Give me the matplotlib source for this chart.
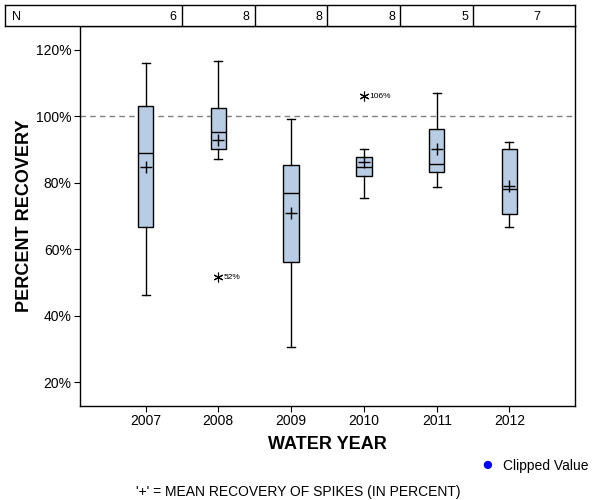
import matplotlib.pyplot as plt
from matplotlib.ticker import FuncFormatter

plt.rcParams['font.family'] = ['Liberation Sans', 'DejaVu Sans']

# values (percent recovery)
years = ['2007', '2008', '2009', '2010', '2011', '2012']
n_counts = [6, 8, 8, 8, 5, 7]
whisker_low = [46.1, 87.2, 30.5, 75.3, 78.7, 66.6]
q1 = [66.6, 90.2, 56.1, 82.0, 83.2, 70.5]
medians = [88.9, 95.3, 76.8, 84.7, 85.6, 78.0]
q3 = [103.0, 102.4, 85.3, 87.7, 96.1, 90.1]
whisker_high = [116.0, 116.6, 99.1, 90.1, 107.0, 92.2]
means = [84.9, 93.0, 70.8, 86.2, 90.1, 78.9]
outlier_year = ['2008', '2010']
outlier_val = [51.5, 106.1]
outlier_lbl = ['52%', '106%']

stats = []
for i in range(len(years)):
    stats.append({'whislo': whisker_low[i], 'q1': q1[i], 'med': medians[i],
                  'q3': q3[i], 'whishi': whisker_high[i], 'fliers': [],
                  'label': years[i]})

fig = plt.figure(figsize=(6, 5), dpi=100)
ax = fig.add_axes([80/600, 94/500, 495/600, 380/500])
pos = list(range(len(years)))
bp = ax.bxp(stats, positions=pos, widths=0.21, patch_artist=True,
            showfliers=False,
            boxprops=dict(facecolor='#b8cce4', edgecolor='black', linewidth=1),
            medianprops=dict(color='black', linewidth=1),
            whiskerprops=dict(color='black', linewidth=1),
            capprops=dict(color='black', linewidth=1),
            capwidths=0.11)
ax.plot(pos, means, linestyle='none', marker='+', color='black',
        markersize=9, markeredgewidth=1, zorder=5)

for yr, v, lbl in zip(outlier_year, outlier_val, outlier_lbl):
    xi = years.index(yr)
    ax.plot(xi, v, linestyle='none', marker=(6, 2, 0), color='black',
            markersize=7, markeredgewidth=0.8, zorder=5)
    ax.text(xi + 0.08, v, lbl, fontsize=6, va='center', ha='left')

ax.axhline(100, color='gray', linestyle=(0, (4, 3)), linewidth=1, zorder=0)

ax.set_xlim(-0.9, 5.9)
ax.set_ylim(12.8, 127.2)
ax.set_yticks([20, 40, 60, 80, 100, 120])
ax.yaxis.set_major_formatter(FuncFormatter(lambda v, p: f'{v:.0f}%'))
ax.set_xticks(pos)
ax.set_xticklabels(years)
ax.tick_params(direction='out', length=4, labelsize=10, top=False, right=False)
ax.tick_params(axis='x', pad=1.5)
ax.tick_params(axis='y', pad=2)
for s in ax.spines.values():
    s.set_linewidth(1)
ax.set_xlabel('WATER YEAR', fontsize=13, fontweight='bold')
ax.set_ylabel('PERCENT RECOVERY', fontsize=13, fontweight='bold')
ax.xaxis.set_label_coords(0.5, -0.08)
ax.yaxis.set_label_coords(-0.094, 0.5)

# N table across the top
tax = fig.add_axes([5/600, 474/500, 570/600, 21/500])
tax.set_xlim(-0.9 - 75/72.8, 5.9)
tax.set_ylim(0, 1)
tax.set_xticks([])
tax.set_yticks([])
for s in tax.spines.values():
    s.set_linewidth(1)
for i in range(len(years) - 1):
    tax.axvline(i + 0.5, color='black', linewidth=1)
tax.text(-0.9 - 75/72.8 + 0.09, 0.45, 'N', fontsize=9, va='center', ha='left')
for i, n in enumerate(n_counts):
    tax.text(i + 0.43, 0.45, str(n), fontsize=9, va='center', ha='right')

fig.text(0.812, 0.069, '\u25cf', color='blue', fontsize=14, ha='center', va='center')
fig.text(0.838, 0.068, 'Clipped Value', fontsize=10, ha='left', va='center')
fig.text(0.497, 0.016, "'+' = MEAN RECOVERY OF SPIKES (IN PERCENT)",
         fontsize=10, ha='center', va='center')

fig.savefig('out.png', dpi=100)
